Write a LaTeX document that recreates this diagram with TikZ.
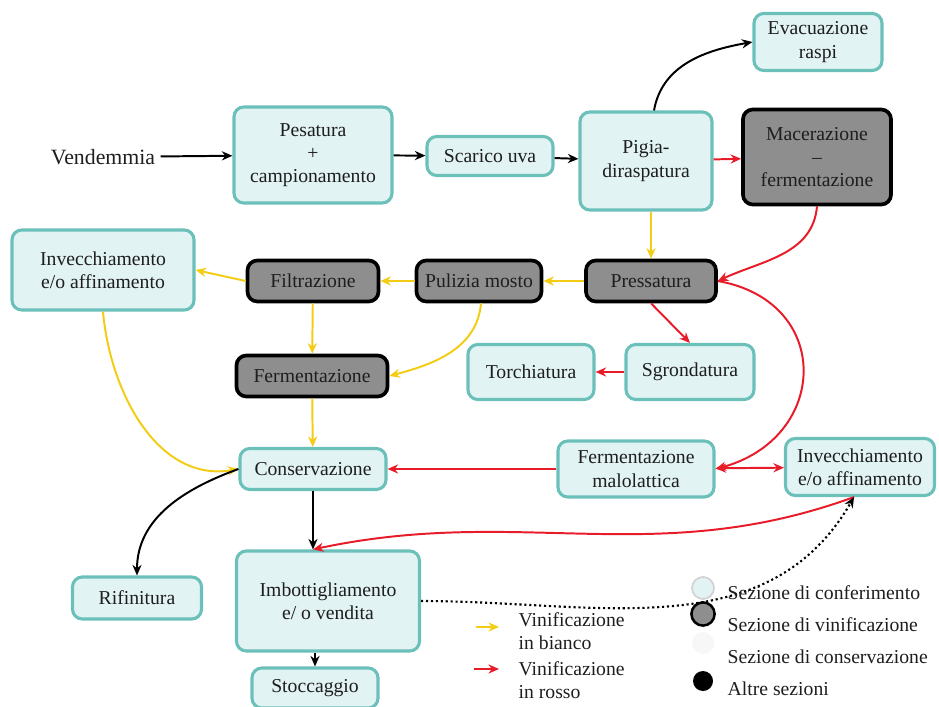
\documentclass[tikz,border=0pt]{standalone}
\usepackage{fontspec}
\setmainfont{Liberation Serif}
\usetikzlibrary{arrows.meta}
\definecolor{boxfill}{RGB}{226,243,244}
\definecolor{boxline}{RGB}{108,192,186}
\definecolor{vinfill}{RGB}{142,142,142}
\definecolor{bianco}{RGB}{244,204,20}
\definecolor{rosso}{RGB}{232,28,40}
\definecolor{txt}{RGB}{30,30,30}

\begin{document}
\begin{tikzpicture}[x=0.025cm,y=-0.025cm,line width=1.4pt,>={Stealth[length=7.5pt,width=6.5pt]},
  font=\rmfamily\fontsize{14}{16.5}\selectfont,text=txt,
  conf/.style={draw=boxline,fill=boxfill,line width=2.2pt,rounded corners=7pt,align=center,inner sep=2pt},
  vin/.style={draw=black,fill=vinfill,line width=2.6pt,rounded corners=7pt,align=center,inner sep=2pt},
  wb/.style={->,bianco},
  wr/.style={->,rosso},
  oth/.style={->,black}]
\useasboundingbox (0,0) rectangle (939,707);
% ---- top row ----
\node[font=\rmfamily\fontsize{15.5}{18}\selectfont] (vend) at (103,157) {Vendemmia};
\node[conf,minimum width=3.95cm,minimum height=2.4cm] (pes) at (313,155) {Pesatura\\+\\campionamento};
\node[conf,minimum width=3.15cm,minimum height=0.975cm] (sca) at (490,156) {Scarico uva};
\node[conf,minimum width=3.3cm,minimum height=2.45cm] (pig) at (646,161) {Pigia-\\diraspatura};
\node[conf,minimum width=3.2cm,minimum height=1.425cm] (eva) at (818,42) {Evacuazione\\raspi};
\node[vin,minimum width=3.7cm,minimum height=2.375cm] (mac) at (817,157) {Macerazione\\--\\fermentazione};
% ---- pressing row ----
\node[conf,minimum width=4.55cm,minimum height=2cm] (inv1) at (103,270) {Invecchiamento\\e/o affinamento};
\node[vin,minimum width=3.275cm,minimum height=1.025cm] (filt) at (313,281) {Filtrazione};
\node[vin,minimum width=3.125cm,minimum height=1.025cm] (pul) at (479,281) {Pulizia mosto};
\node[vin,minimum width=3.25cm,minimum height=1.025cm] (pre) at (651,281) {Pressatura};
\node[vin,minimum width=3.775cm,minimum height=1.025cm] (ferm) at (312,376) {Fermentazione};
\node[conf,minimum width=3.15cm,minimum height=1.375cm] (tor) at (531,372) {Torchiatura};
\node[conf,minimum width=3.2cm,minimum height=1.375cm] (sgr) at (690,372) {Sgrondatura};
% ---- conservation row ----
\node[conf,minimum width=3.65cm,minimum height=1.025cm] (cons) at (313,469) {Conservazione};
\node[conf,minimum width=3.9cm,minimum height=1.4cm] (malo) at (636,469) {Fermentazione\\malolattica};
\node[conf,minimum width=3.725cm,minimum height=1.425cm] (inv2) at (860,467) {Invecchiamento\\e/o affinamento};
\node[conf,minimum width=3.225cm,minimum height=1.05cm] (rif) at (137,598) {Rifinitura};
\node[conf,minimum width=4.575cm,minimum height=2.5cm] (imb) at (328,601) {Imbottigliamento\\e/ o vendita};
\node[conf,minimum width=3.15cm,minimum height=1cm] (stoc) at (315,688) {Stoccaggio};
% ---- connectors ----
\draw[oth] (vend) -- (pes);
\draw[oth] (pes) -- (sca);
\draw[oth] (sca) -- (pig);
\draw[oth] ([xshift=0.2cm]pig.north) to[out=80,in=190] (eva.west);
\draw[wr] (pig) -- (mac);
\draw[wb] (pre.north |- pig.south) -- (pre.north);
\draw[wr] (mac.south) to[out=-95,in=25] (pre.east);
\draw[wb] (pre) -- (pul);
\draw[wb] (pul) -- (filt);
\draw[wb] (filt.west) -- (inv1.east);
\draw[wb] (filt) -- (ferm);
\draw[wb] ([xshift=0.05cm]pul.south) to[out=-95,in=15] (ferm.east);
\draw[wb] (ferm) -- (cons);
\draw[wb] (inv1.south) to[out=-85,in=190] (cons.west);
\draw[wr] (pre.south) -- (sgr.north);
\draw[wr] (sgr) -- (tor);
\draw[wr] (pre.east) to[out=-10,in=15,looseness=1.6] (malo.east);
\draw[rosso,<->] (malo) -- (inv2);
\draw[wr] (malo) -- (cons);
\coordinate (inv2b) at ([xshift=-0.15cm]inv2.south);
\draw[wr] (inv2b) to[out=-160,in=12] (cons.south |- imb.north);
\draw[oth] (cons.south) -- (cons.south |- imb.north);
\draw[oth] (cons.west) to[out=200,in=90] (rif.north);
\draw[oth,dotted,line width=1.5pt] (imb.east) to[out=0,in=-120] (inv2b);
\draw[oth] (stoc.north |- imb.south) -- (stoc.north);
% ---- legend ----
\coordinate (lb1) at (476,627);
\coordinate (lb2) at (499,627);
\coordinate (lr1) at (474,669);
\coordinate (lr2) at (499,669);
\draw[wb,line width=1.2pt] (lb1) -- (lb2);
\draw[wr,line width=1.2pt] (lr1) -- (lr2);
\node[anchor=west,align=left] (lgb) at (513,631) {Vinificazione\\in bianco};
\node[anchor=west,align=left] (lgr) at (513,680) {Vinificazione\\in rosso};
\node[circle,draw=gray!35,fill=boxfill,line width=1.2pt,minimum size=0.55cm] (cconf) at (703,588) {};
\node[circle,draw=black,fill=vinfill,line width=1.8pt,minimum size=0.58cm] (cvin) at (703,614) {};
\node[circle,fill=gray!6,minimum size=0.55cm] (ccons) at (703,643) {};
\node[circle,fill=black,minimum size=0.5cm] (calt) at (703,681) {};
\node[anchor=west] (tconf) at (722,593) {Sezione di conferimento};
\node[anchor=west] (tvin) at (722,625) {Sezione di vinificazione};
\node[anchor=west] (tcons) at (722,657) {Sezione di conservazione};
\node[anchor=west] (talt) at (722,689) {Altre sezioni};
\end{tikzpicture}
\end{document}
